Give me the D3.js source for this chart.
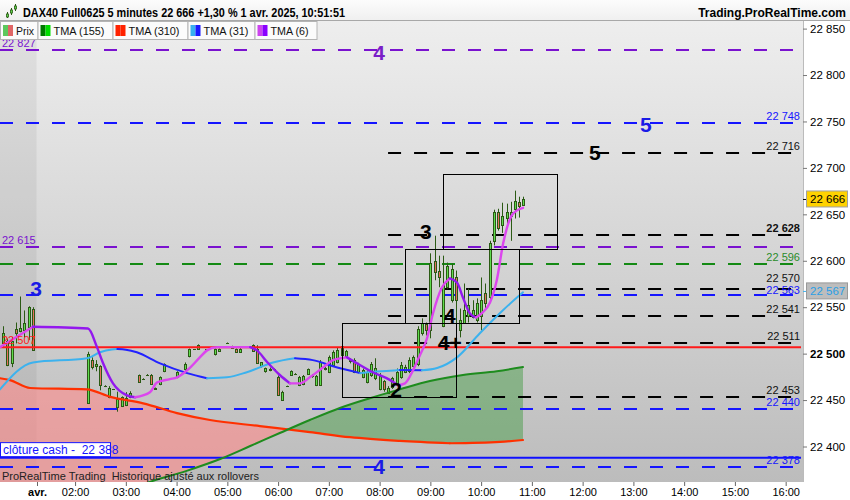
<!DOCTYPE html>
<html><head><meta charset="utf-8">
<script src="https://cdn.jsdelivr.net/npm/d3@7"></script>
<style>
html,body{margin:0;padding:0;background:#fff;}
svg{display:block;font-family:"Liberation Sans",Arial,sans-serif;}
</style></head><body>
<svg id="c" width="850" height="500"></svg>
<script>
// ---------------- DATA ----------------
const barIndex=[-8,-7,-6,-5,-4,-3,-2,-1,12,13,14,15,16,17,18,19,20,21,22,24,25,26,27,28,29,30,33,34,35,36,37,38,40,42,43,45,46,47,48,51,52,53,54,55,56,57,58,59,60,61,62,63,64,65,66,67,68,69,70,71,72,73,74,75,76,77,78,79,80,81,82,83,84,85,86,87,88,89,90,91,92,93,94,95,96,97,98,99,100,101,102,103,104,105,106,107,108,109,110,111,112,113,114,115];
const barOpen=[22511,22514,22489.5,22527,22524,22525,22528.5,22548.5,22447,22493,22486.5,22486.5,22465,22453,22461.5,22442.5,22443.5,22444.5,22453,22477,22473,22477.5,22477.5,22461.5,22467,22481,22474.5,22478,22483,22497,22504.5,22505,22504.5,22499.5,22502.5,22511.5,22506,22504.5,22502,22509,22504.5,22486.5,22481.5,22483,22483,22474.5,22450,22465,22477,22478.5,22466,22467,22478,22476,22466,22466,22483,22480,22487.5,22490.5,22498,22497,22492,22493,22480,22474.5,22469,22477,22473.5,22461.5,22470.5,22458,22464,22467,22474.5,22480,22481,22486.5,22488.5,22522,22531.5,22525,22600,22589.5,22529.5,22571.5,22557.5,22583,22525,22533.5,22541,22539,22536,22541,22565,22560.5,22621.5,22652,22638,22646.5,22648.5,22656,22663.5,22660.5];
const barHigh=[22529.5,22516.5,22517.5,22533.5,22561.5,22546.5,22551,22550,22502,22496,22493,22487.5,22466,22465,22462,22459,22454,22458.5,22459.5,22477.5,22473.5,22478,22478,22463.5,22475.5,22489.5,22481,22478.5,22490.5,22505.5,22505,22510,22505,22505.5,22505.5,22512,22508.5,22505.5,22506,22510,22509,22491,22485,22485,22484,22476.5,22460,22465.5,22482,22479,22476,22477,22484,22478,22477,22493,22486,22498,22503.5,22507,22511.5,22504,22495,22495,22490,22484,22482,22491,22495,22479,22471.5,22465,22475,22484,22491,22488,22496,22498,22529.5,22538,22533.5,22608,22627,22605.5,22605.5,22598,22597,22589.5,22548.5,22575.5,22570,22557.5,22559.5,22582,22575.5,22621.5,22655,22656,22662.5,22661.5,22663.5,22675.5,22669,22669];
const barLow=[22506,22486.5,22485.5,22511,22523,22517.5,22514.5,22503,22447,22483,22481,22460.5,22464,22452,22461,22437.5,22442.5,22443.5,22452,22469,22472,22477,22467,22461,22466,22480,22473.5,22477.5,22481,22496,22504,22504,22504,22498,22502,22511,22505.5,22501,22501,22502,22489,22485,22479.5,22481,22482,22454.5,22449,22464.5,22476,22478,22465,22466,22477,22474,22465,22466,22482,22479,22486,22489.5,22496.5,22496,22489.5,22479,22479,22473.5,22468,22475,22471.5,22460.5,22459,22457,22462,22466,22473,22479,22479,22485,22486.5,22519.5,22519.5,22516.5,22579,22571.5,22528.5,22570,22555,22517.5,22517.5,22533,22533.5,22538,22533.5,22525,22548.5,22557.5,22616.5,22632.5,22630,22638,22621.5,22645.5,22646.5,22659.5];
const barClose=[22522,22487.5,22514,22522,22528,22533.5,22550,22503.5,22500,22485.5,22488.5,22466,22465,22463,22462,22451.5,22453,22452,22457.5,22469.5,22472.5,22477.5,22467,22463,22474.5,22488.5,22480,22478,22488.5,22504.5,22504.5,22509,22504.5,22504.5,22504.5,22511.5,22508,22502,22505,22502.5,22489.5,22490.5,22484,22482.5,22483.5,22455.5,22458.5,22465,22481,22478.5,22474.5,22475.5,22483,22477,22475.5,22490.5,22485,22496,22501.5,22503.5,22508,22502.5,22493.5,22480,22488.5,22482,22480,22488.5,22484.5,22475.5,22462,22462.5,22473.5,22480,22487.5,22486,22493,22496,22527,22533.5,22525,22598,22587.5,22583,22573.5,22594,22591.5,22557.5,22536,22546.5,22552,22546.5,22554,22557.5,22555,22619.5,22652,22635.5,22648.5,22652,22653,22664.5,22659.5,22666];

const tma6Idx=[-8.75,-0.95,12.06,14.18,15.6,17.97,21.28,23.2,26.7,28.4,31.4,33.1,36.2,38.5,40.2,42.6,50.4,52.0,54.4,57.4,59.8,62.2,64.5,67.6,70.0,73.3,75.7,79.4,83.5,85.3,87.0,88.9,90.5,92.2,93.6,95.7,97.6,99.3,100.7,102.4,103.8,105.4,107.1,108.7,110.2,111.1,112.5,114.9];
const tma6Val=[22507,22529,22527,22507,22490,22468,22455,22453,22458.5,22469,22472.5,22474.5,22485,22496,22503.5,22507,22507,22503.5,22491,22477,22468,22468,22474.5,22485,22493,22496,22489.5,22480,22471.5,22466,22468,22482,22498,22516.5,22543,22571,22581,22576.5,22560.5,22543,22539,22544.5,22555,22579,22618.5,22635.5,22650.5,22657];
const tma31Idx=[-8.75,-0.95,11.8,14.9,17.7,19.0,21.0,23.6,29.1,35.5,40.2,44.9,49.6,55.8,61.0,65.2,70.0,76.4,79.4,83.5,85.8,91.0,94.6,99.3,104.7,110.1,114.9];
const tma31Val=[22461.5,22490.5,22495,22501.5,22504.5,22505,22504.3,22501.5,22489.5,22479,22473.5,22474.5,22480,22490.5,22495,22493,22486.5,22479,22480.5,22481.5,22482.5,22482,22484.5,22496,22522,22546.5,22566];
const tma155Idx=[-8.75,5.4,17.3,26.2,35.2,43.3,50.4,57.4,64.5,71.6,78.7,85.8,92.9,100.7,108.7,114.9];
const tma155Val=[22299.5,22321,22342.5,22361,22373.5,22386.5,22400.5,22414.5,22428.5,22441.5,22452,22461.5,22470.5,22477,22481,22485.5];
const tma310Idx=[-8.75,-6.4,-1.65,11.8,17.3,25.1,33.1,40.9,52.7,64.5,74,85.8,97.6,109.5,114.9];
const tma310Val=[22473.5,22471.5,22463,22461.5,22453.5,22446.5,22436,22428.5,22422,22415.5,22410,22406,22403.5,22405,22407];

const purpleLevels=[22827,22615];
const blueLevels=[22748,22563,22440,22378];
const greenLevels=[22596];
const blackLevels=[22716,22628,22570,22541,22511,22453];
const blackLevelStart=83;
const redLevel=22507;
const cashClose=22388;
const lastPrice=22666;
const tma31Last=22567;

const waveText=["4","5","5","3","3","4","4+","2","4"];
const waveGroup=["purple","blue","black","black","blue","black","black","black","blue"];
const waveIdx=[80.85,143.97,131.9,91.96,-0.24,97.6,97.6,84.9,80.85];
const waveVal=[22824.8,22747.3,22717,22632,22570.7,22541.6,22512.5,22461,22378.6];

const boxIdx0=[72,87,96], boxIdx1=[99,114,123];
const boxLow=[22453,22533,22613], boxHigh=[22533,22613,22693];

const yTicks=[22400,22450,22500,22550,22600,22650,22700,22750,22800,22850];
const tickIndex=[0,9,21,33,45,57,69,81,93,105,117,129,141,153,165,177];
const tickLabels=["avr.","02:00","03:00","04:00","05:00","06:00","07:00","08:00","09:00","10:00","11:00","12:00","13:00","14:00","15:00","16:00"];
const sessionStart=0;

const legendNames=["Prix","TMA (155)","TMA (310)","TMA (31)","TMA (6)"];

// ---------------- DRAW ----------------
const svg=d3.select("#c");
const PL=0,PR=803,PT=21,PB=482;
const x=d3.scaleLinear().domain([-8.75,181.1]).range([PL,PR]);
const y=d3.scaleLinear().domain([22400,22850]).range([446.5,28.6]);
const fmt=v=>{const s=String(Math.round(v));return s.slice(0,2)+" "+s.slice(2);};
const C={purple:"#7a12cf",blue:"#1515ff",green:"#148a14",black:"#000",red:"#ff1a1a"};
const waveColor={purple:"#7a1ec8",blue:"#1a1ae6",black:"#000"};

const defs=svg.append("defs");
const bg=defs.append("linearGradient").attr("id","bg").attr("x1",0).attr("y1",0).attr("x2",0).attr("y2",1);
bg.append("stop").attr("offset","0%").attr("stop-color","#eeeeee");
bg.append("stop").attr("offset","100%").attr("stop-color","#bcbcbc");
const hg=defs.append("linearGradient").attr("id","hg").attr("x1",0).attr("y1",0).attr("x2",0).attr("y2",1);
hg.append("stop").attr("offset","0%").attr("stop-color","#fcfcfc");
hg.append("stop").attr("offset","100%").attr("stop-color","#efefef");
defs.append("clipPath").attr("id","plot").append("rect").attr("x",PL).attr("y",PT).attr("width",PR-PL).attr("height",PB-PT);

// header
svg.append("rect").attr("x",0).attr("y",0).attr("width",850).attr("height",21).attr("fill","url(#hg)");
svg.append("line").attr("x1",0).attr("x2",850).attr("y1",20.5).attr("y2",20.5).attr("stroke","#a8a8a8");
svg.append("rect").attr("x",PR).attr("y",21).attr("width",850-PR).attr("height",479).attr("fill","#fff");
svg.append("rect").attr("x",0).attr("y",PB).attr("width",PR).attr("height",500-PB).attr("fill","#fff");

// plot background
svg.append("rect").attr("x",PL).attr("y",PT).attr("width",PR-PL).attr("height",PB-PT).attr("fill","url(#bg)");
svg.append("rect").attr("x",PL).attr("y",PT).attr("width",x(sessionStart)-0.5-PL).attr("height",PB-PT).attr("fill","#000").attr("fill-opacity",0.055);

const plot=svg.append("g").attr("clip-path","url(#plot)");

// cloud between TMA155 and TMA310
const redPts=tma310Idx.map((d,k)=>[d,tma310Val[k]]);
const grnPts=tma155Idx.map((d,k)=>[d,tma155Val[k]]);
const areaAbove=p=>d3.area().x(d=>x(d[0])).y0(PT-20).y1(d=>y(d[1])).curve(d3.curveMonotoneX)(p);
const areaBelow=p=>d3.area().x(d=>x(d[0])).y0(PB+200).y1(d=>y(d[1])).curve(d3.curveMonotoneX)(p);
defs.append("clipPath").attr("id","belowRed").append("path").attr("d",areaBelow(redPts));
defs.append("clipPath").attr("id","aboveRed").append("path").attr("d",areaAbove(redPts));
plot.append("g").attr("clip-path","url(#belowRed)").append("path").attr("d",areaAbove(grnPts)).attr("fill","#ff8a8a").attr("fill-opacity",0.6);
plot.append("g").attr("clip-path","url(#aboveRed)").append("path").attr("d",areaBelow(grnPts)).attr("fill","#3c9a3c").attr("fill-opacity",0.45);

// dashed levels
function hline(v,color,x0,dash,w){
  const yy=Math.round(y(v));
  plot.append("line").attr("x1",x0).attr("x2",801).attr("y1",yy).attr("y2",yy)
    .attr("stroke",color).attr("stroke-width",w).attr("stroke-dasharray",dash);
}
purpleLevels.forEach(v=>hline(v,C.purple,0,"13,13",2));
greenLevels.forEach(v=>hline(v,C.green,0,"13,13",2));
blueLevels.forEach(v=>hline(v,C.blue,0,"13,13",2));
blackLevels.forEach(v=>hline(v,C.black,x(blackLevelStart),"13,13",2));

// candles
const wickC="#2b5a14";
barIndex.forEach((bi,k)=>{
  const cx=Math.round(x(bi))+0.5;
  const o=barOpen[k],c=barClose[k],h=barHigh[k],l=barLow[k];
  plot.append("line").attr("x1",cx).attr("x2",cx).attr("y1",y(h)).attr("y2",y(l)).attr("stroke",wickC).attr("stroke-width",1);
  const top=Math.round(y(Math.max(o,c)))+0.5, bot=Math.round(y(Math.min(o,c)))+0.5;
  plot.append("rect").attr("x",cx-1).attr("y",top).attr("width",2).attr("height",Math.max(bot-top,0.01))
    .attr("fill",c>=o?"#5fdc4e":"#e5705e").attr("stroke",wickC).attr("stroke-width",1);
});

// solid levels
[[redLevel,C.red],[cashClose,"#1010ff"]].forEach(([v,col])=>{
  const yy=y(v);
  plot.append("line").attr("x1",0).attr("x2",801).attr("y1",yy).attr("y2",yy).attr("stroke",col).attr("stroke-width",2);
});

// TMA lines
const lineGen=d3.line().x(d=>x(d[0])).y(d=>y(d[1])).curve(d3.curveMonotoneX);
function colorLine(idx,val,up,down,w){
  const pts=idx.map((d,k)=>[d,val[k]]);
  const runs=[];let cur=[pts[0]],dir=null;
  for(let k=1;k<pts.length;k++){
    const d=pts[k][1]>=pts[k-1][1]?1:-1;
    if(dir===null||d===dir){cur.push(pts[k]);dir=d;}
    else{runs.push({dir,pts:cur});cur=[pts[k-1],pts[k]];dir=d;}
  }
  runs.push({dir,pts:cur});
  runs.forEach(r=>plot.append("path").attr("d",lineGen(r.pts)).attr("fill","none")
    .attr("stroke",r.dir>0?up:down).attr("stroke-width",w).attr("stroke-linecap","round").attr("stroke-linejoin","round"));
}
colorLine(tma310Idx,tma310Val,"#ff3000","#ff3000",2.2);
colorLine(tma155Idx,tma155Val,"#1e8c1e","#1e8c1e",2);
colorLine(tma31Idx,tma31Val,"#3cb2ee","#2222ff",2);
colorLine(tma6Idx,tma6Val,"#dc46ee","#9318ee",2.4);

// boxes
boxIdx0.forEach((b,k)=>{
  const x0=Math.round(x(b))+0.5,x1=Math.round(x(boxIdx1[k]))+0.5;
  const y0=Math.round(y(boxHigh[k]))+0.5,y1=Math.round(y(boxLow[k]))+0.5;
  plot.append("rect").attr("x",x0).attr("y",y0).attr("width",x1-x0).attr("height",y1-y0)
    .attr("fill","none").attr("stroke","#000").attr("stroke-width",1);
});

// level labels
function rlabel(v,col,bold,dy){
  plot.append("text").attr("x",800).attr("y",y(v)-3+dy).attr("text-anchor","end").attr("font-size","11px")
    .attr("font-weight",bold?"bold":"normal").attr("fill",col).text(fmt(v));
}
blackLevels.forEach(v=>rlabel(v,"#111",v===22628,v===22570?-4:0));
blueLevels.forEach(v=>rlabel(v,C.blue,false,v===22563?1.5:0));
greenLevels.forEach(v=>rlabel(v,"#2a8c2a",false,0));
function llabel(v,col){
  plot.append("text").attr("x",2).attr("y",y(v)-3).attr("font-size","11px").attr("fill",col).text(fmt(v));
}
purpleLevels.forEach(v=>llabel(v,C.purple));
llabel(redLevel,C.red);

// cash close box
const cy=y(cashClose);
plot.append("rect").attr("x",0.5).attr("y",cy-15).attr("width",110).attr("height",14).attr("fill","#fff").attr("stroke","#1515ff");
plot.append("text").attr("x",3).attr("y",cy-4).attr("font-size","12px").attr("fill","#1515ff").text("clôture cash -\u00a0 "+fmt(cashClose));

// wave labels
waveText.forEach((t,k)=>{
  plot.append("text").attr("x",x(waveIdx[k])).attr("y",y(waveVal[k])).attr("text-anchor","middle").attr("dy","0.36em")
    .attr("font-size","21px").attr("font-weight","bold").attr("fill",waveColor[waveGroup[k]]).text(t);
});

// bottom note
plot.append("text").attr("x",2).attr("y",480).attr("font-size","11px").attr("fill","#222").text("ProRealTime Trading\u00a0 Historique ajusté aux rollovers");

// right axis
const ya=svg.append("g").attr("transform",`translate(${PR},0)`)
  .call(d3.axisRight(y).tickValues(yTicks).tickFormat(fmt).tickSize(4).tickPadding(3));
ya.select(".domain").attr("stroke","#bbb").attr("d",`M0.5,${PT}V${PB}`);
ya.selectAll(".tick line").attr("stroke","#777");
ya.selectAll(".tick text").attr("font-size","11.5px").attr("fill","#000").attr("font-family","Liberation Sans, Arial, sans-serif")
  .attr("font-weight",d=>d===22500?"bold":"normal");

// price tags
function tag(v,bgc,border,txtc,tickc){
  const yy=y(v);
  svg.append("line").attr("x1",PR).attr("x2",PR+4).attr("y1",yy).attr("y2",yy).attr("stroke",tickc);
  svg.append("rect").attr("x",PR+3.5).attr("y",yy-8.5).attr("width",41).attr("height",16).attr("fill",bgc).attr("stroke",border);
  svg.append("text").attr("x",PR+7).attr("y",yy+4).attr("font-size","11.5px").attr("fill",txtc).text(fmt(v));
}
tag(lastPrice,"#ffd200","#a0a0a0","#000","#000");
tag(tma31Last,"#bdbdbd","#999","#2a9fe6","#3cb2ee");

// bottom axis
const xa=svg.append("g").attr("transform",`translate(0,${PB})`)
  .call(d3.axisBottom(x).tickValues(tickIndex).tickFormat((d,k)=>tickLabels[k]).tickSize(4).tickPadding(2));
xa.select(".domain").remove();
xa.selectAll(".tick line").attr("stroke","#666");
xa.selectAll(".tick text").attr("font-size","11px").attr("fill","#000").attr("font-family","Liberation Sans, Arial, sans-serif")
  .attr("font-weight",d=>d===sessionStart?"bold":"normal");

// title
svg.append("text").attr("x",23).attr("y",17).attr("font-size","12px").attr("font-weight","bold").attr("fill","#000")
  .attr("textLength",322).attr("lengthAdjust","spacingAndGlyphs")
  .text("DAX40 Full0625 5 minutes 22 666 +1,30 % 1 avr. 2025, 10:51:51");
svg.append("text").attr("x",846).attr("y",17).attr("text-anchor","end").attr("font-size","12px").attr("font-weight","bold").attr("fill","#000")
  .text("Trading.ProRealTime.com");
// icon
[[7,12,18,14,17],[11,8,15,10,13],[15,4,11,6,9]].forEach(r=>{
  svg.append("line").attr("x1",r[0]+0.5).attr("x2",r[0]+0.5).attr("y1",r[1]).attr("y2",r[2]).attr("stroke","#2b5a14");
  svg.append("rect").attr("x",r[0]-0.5).attr("y",r[3]).attr("width",2).attr("height",r[4]-r[3]).attr("fill","#5fdc4e").attr("stroke","#2b5a14").attr("stroke-width",0.8);
});

// legend
const lg=svg.append("g");
const lgX=[0.5,38,113,188,255,317];
const txtW=[18,51,51,45,38];
const sw=[["#5cc85c","#e06666"],["#007a00","#00dd00"],["#ff2200","#ff2200"],["#38b0f0","#1a1aff"],["#cc44ee","#8a00ff"]];
legendNames.forEach((n,k)=>{
  lg.append("rect").attr("x",lgX[k]).attr("y",21.5).attr("width",lgX[k+1]-lgX[k]).attr("height",18).attr("fill","#fbfbfb").attr("stroke","#b4b4b4");
  lg.append("rect").attr("x",lgX[k]+2.5).attr("y",25).attr("width",5).attr("height",11).attr("fill",sw[k][0]);
  lg.append("rect").attr("x",lgX[k]+7.5).attr("y",25).attr("width",5).attr("height",11).attr("fill",sw[k][1]);
  lg.append("text").attr("x",lgX[k]+15.5).attr("y",35).attr("font-size","11.5px").attr("fill","#111")
    .attr("textLength",txtW[k]).attr("lengthAdjust","spacingAndGlyphs").text(n);
});
</script></body></html>
